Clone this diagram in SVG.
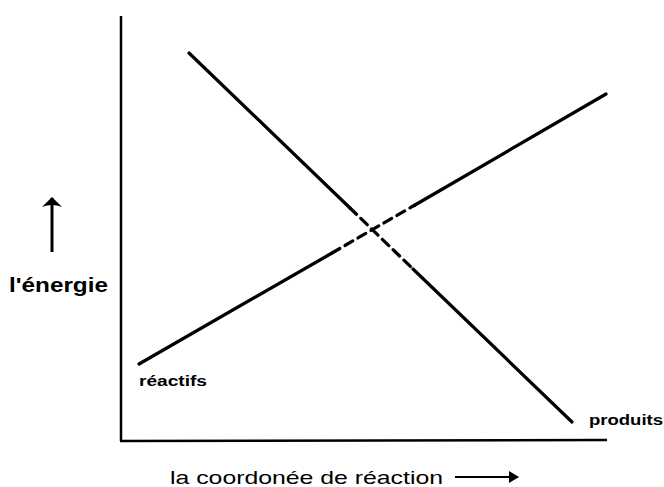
<svg xmlns="http://www.w3.org/2000/svg" width="664" height="487" viewBox="0 0 664 487">
<style>
.ax{stroke:#000;stroke-width:2.5;fill:none}
.ln{stroke:#000;stroke-width:3.2;fill:none;stroke-linecap:round}
.dash{stroke-dasharray:9 6}
.lb{font-family:"Liberation Sans",Arial,sans-serif;font-weight:bold;fill:#000}
.tx{font-family:"Liberation Sans",Arial,sans-serif;fill:#000}
</style>
<defs>
<marker id="ahu" viewBox="0 0 10 20" refX="9" refY="10" markerWidth="10" markerHeight="20" markerUnits="userSpaceOnUse" orient="auto">
<path d="M0,0 L10,10 L0,20 Q4,10 0,0 Z" fill="#000"/>
</marker>
<marker id="ahr" viewBox="0 0 10 12" refX="9" refY="6" markerWidth="10" markerHeight="12" markerUnits="userSpaceOnUse" orient="auto">
<path d="M0,0 L10,6 L0,12 Z" fill="#000"/>
</marker>
</defs>
<g id="axes">
<line class="ax" x1="121" y1="16" x2="121" y2="441"/>
<line class="ax" x1="120" y1="441" x2="607" y2="440"/>
</g>
<g id="connectors">
<line class="ln" x1="189" y1="53" x2="350" y2="208"/>
<line class="ln dash" x1="350" y1="208" x2="413" y2="269"/>
<line class="ln" x1="413" y1="269" x2="572" y2="422"/>
<line class="ln" x1="139" y1="364" x2="332" y2="253"/>
<line class="ln dash" x1="332" y1="253" x2="415" y2="205"/>
<line class="ln" x1="415" y1="205" x2="606" y2="94"/>
<line x1="52" y1="252" x2="52" y2="198" stroke="#000" stroke-width="3" marker-end="url(#ahu)"/>
<line x1="455" y1="477" x2="518" y2="477" stroke="#000" stroke-width="2" marker-end="url(#ahr)"/>
</g>
<g id="labels">
<text class="lb" x="9" y="292" font-size="20" textLength="99" lengthAdjust="spacingAndGlyphs">l'énergie</text>
<text class="lb" x="139" y="386" font-size="14" textLength="68" lengthAdjust="spacingAndGlyphs">réactifs</text>
<text class="lb" x="589" y="425" font-size="14" textLength="74" lengthAdjust="spacingAndGlyphs">produits</text>
<text class="tx" x="170" y="484" font-size="19" textLength="273" lengthAdjust="spacingAndGlyphs">la coordonée de réaction</text>
</g>
</svg>
